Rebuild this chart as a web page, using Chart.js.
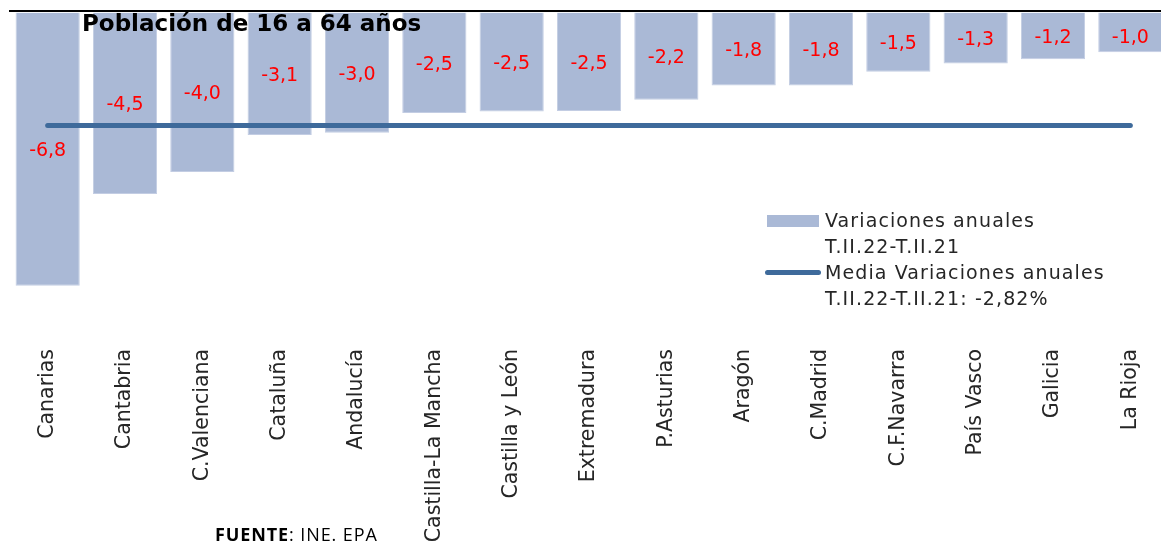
<!DOCTYPE html>
<html>
<head>
<meta charset="utf-8">
<script src="https://cdn.jsdelivr.net/npm/chart.js@4.4.1/dist/chart.umd.min.js"></script>
<style>
  html, body { margin: 0; padding: 0; background: #fff; overflow: hidden; }
  #wrap { position: relative; width: 1161px; height: 548px; overflow: hidden; }
  canvas { position: absolute; left: 0; top: 0; }
  .title { position: absolute; left: 82px; top: 10px; font: bold 23px "DejaVu Sans", sans-serif; color: #000; white-space: nowrap; }
  .legend { position: absolute; left: 765px; top: 207px; font: 19px "DejaVu Sans", sans-serif; color: #262626; line-height: 26px; letter-spacing: 1.1px; }
  .legend .row { position: relative; padding-left: 60px; white-space: nowrap; }
  .legend .sw-bar { position: absolute; left: 2px; top: 8px; width: 52px; height: 12px; background: #aab9d6; }
  .legend .sw-line { position: absolute; left: 0; top: 11px; width: 56px; height: 5px; border-radius: 3px; background: #3e6a9b; }
  .source { position: absolute; left: 215px; top: 522px; font: 18px "Open Sans", sans-serif; color: #000; white-space: nowrap; letter-spacing: 0.9px; }
</style>
</head>
<body>
<div id="wrap">
  <canvas id="c" width="1170" height="548"></canvas>
  <div class="title">Población de 16 a 64 años</div>
  <div class="legend">
    <div class="row"><span class="sw-bar"></span>Variaciones anuales</div>
    <div class="row">T.II.22-T.II.21</div>
    <div class="row"><span class="sw-line"></span>Media Variaciones anuales</div>
    <div class="row">T.II.22-T.II.21: -2,82%</div>
  </div>
  <div class="source"><b>FUENTE</b>: INE. EPA</div>
</div>
<script>
const regions = ["Canarias", "Cantabria", "C.Valenciana", "Cataluña", "Andalucía", "Castilla-La Mancha",
  "Castilla y León", "Extremadura", "P.Asturias", "Aragón", "C.Madrid", "C.F.Navarra", "País Vasco",
  "Galicia", "La Rioja"];
const variations = [-6.82, -4.53, -3.98, -3.06, -3.0, -2.51, -2.47, -2.46, -2.18, -1.82, -1.82, -1.48, -1.27, -1.17, -0.99];
const mean = -2.82;
const meanLine = regions.map(() => mean);

const BAR = "#aab9d6";
const LINE = "#3e6a9b";

// value labels, centred in each bar (kept clear of the top axis)
const barLabels = {
  id: "barLabels",
  afterDatasetsDraw(chart) {
    const { ctx, chartArea } = chart;
    const meta = chart.getDatasetMeta(0);
    ctx.save();
    ctx.font = '19px "DejaVu Sans", sans-serif';
    ctx.fillStyle = "#ff0000";
    ctx.textAlign = "center";
    ctx.textBaseline = "middle";
    meta.data.forEach((bar, i) => {
      const y = Math.max((bar.y + bar.base) / 2 + 2, chartArea.top + 26);
      ctx.fillText(variations[i].toFixed(1).replace(".", ","), bar.x, y);
    });
    ctx.restore();
  },
};

// black axis line along value 0 at the top
const zeroLine = {
  id: "zeroLine",
  afterDatasetsDraw(chart) {
    const { ctx } = chart;
    const y = chart.scales.y.getPixelForValue(0) - 1.5;
    ctx.save();
    ctx.strokeStyle = "#000";
    ctx.lineWidth = 2;
    ctx.beginPath();
    ctx.moveTo(9, y);
    ctx.lineTo(chart.width, y);
    ctx.stroke();
    ctx.restore();
  },
};

new Chart(document.getElementById("c"), {
  data: {
    labels: regions,
    datasets: [
      {
        type: "bar", data: variations, backgroundColor: BAR, borderColor: "#c3cde3", borderWidth: 1,
        barPercentage: 0.83, categoryPercentage: 1, order: 2,
      },
      {
        type: "line", data: meanLine, borderColor: LINE, borderWidth: 5, borderCapStyle: "round",
        pointRadius: 0, order: 1,
      },
    ],
  },
  options: {
    responsive: false,
    animation: false,
    layout: { padding: { left: 9, right: 1, top: 12.5, bottom: 0 } },
    plugins: { legend: { display: false }, tooltip: { enabled: false } },
    scales: {
      x: {
        grid: { display: false },
        border: { display: false },
        ticks: {
          minRotation: 90, maxRotation: 90, autoSkip: false, padding: 8,
          color: "#262626", font: { family: "DejaVu Sans", size: 20.5 },
        },
        afterFit(scale) { scale.height = 215; },
      },
      y: { display: false, min: -8, max: 0 },
    },
  },
  plugins: [barLabels, zeroLine],
});
</script>
</body>
</html>
